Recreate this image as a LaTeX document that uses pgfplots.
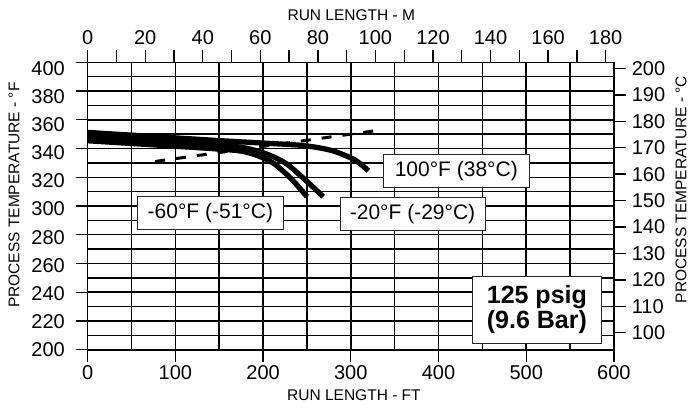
\documentclass[border=0pt]{standalone}
\usepackage{fontspec}
\setmainfont{Liberation Sans}
\usepackage{pgfplots}
\pgfplotsset{compat=1.18}

\begin{document}
\begin{tikzpicture}
\pgfplotsset{
  chartbase/.style={
    scale only axis, width=526.2pt, height=287.4pt,
    at={(0pt,0pt)}, anchor=south west,
    tick align=outside, major tick length=12pt,
    /pgf/number format/assume math mode=true,
    tick label style={font=\fontsize{20}{24}\selectfont, inner sep=0pt},
    label style={font=\fontsize{15.5}{18}\selectfont, inner sep=0pt},
    axis line style={line width=1.6pt},
    every tick/.style={black, line width=1.4pt},
  },
}
\begin{axis}[chartbase,
  xmin=0, xmax=600, ymin=200, ymax=400,
  xtick={0,100,...,600}, ytick={200,220,...,400},
  minor xtick={50,150,...,550}, minor ytick={210,230,...,390},
  minor tick length=0pt,
  grid=both,
  major grid style={black, line width=1.5pt},
  minor grid style={black, line width=1.5pt},
  xtick pos=left, ytick pos=left,
  xticklabel style={anchor=north, yshift=-3.3pt},
  yticklabel style={anchor=east, xshift=-10.7pt, yshift={-0.6pt*\ticknum}},
  xlabel={RUN LENGTH - FT},
  ylabel={PROCESS TEMPERATURE - °F},
  xlabel style={at={(axis description cs:0.506,-0.1576)}, anchor=center},
  ylabel style={at={(axis description cs:-0.1401,0.538)}, anchor=center, rotate=0},
]
% 100 F (38 C)
\addplot[black, line width=5.3pt, smooth, tension=0.5] coordinates {
  (0,351.2) (50,349.3) (100,347.4) (150,345.5) (200,343.8) (240,342.4)
  (260,340.9) (280,338.3) (300,333.5) (310,329.8) (320,324.5)};
% -20 F (-29 C)
\addplot[black, line width=5.3pt, smooth, tension=0.5] coordinates {
  (0,348.3) (50,346.4) (100,344.5) (150,342.5) (175,340.9) (195,338.0)
  (212,334.2) (228,328.8) (246,319.3) (258,312.6) (268.5,306.5)};
% -60 F (-51 C)
\addplot[black, line width=5.3pt, smooth, tension=0.5] coordinates {
  (0,345.4) (50,343.5) (100,341.6) (150,339.6) (175,338.2) (193,335.2)
  (212,329.7) (230,320.2) (240,313.6) (250,306.5)};
% dashed reference line
\addplot[black, line width=3pt, dash pattern=on 10pt off 11pt] coordinates {
  (77,331) (328,352.4)};

\node[draw=black!85, line width=0.9pt, fill=white, inner sep=0pt,
  minimum width=145.8pt, minimum height=32.3pt,
  font=\fontsize{21}{25}\selectfont] at (axis cs:139.9,295.2) {-60°F (-51°C)};
\node[draw=black!85, line width=0.9pt, fill=white, inner sep=0pt,
  minimum width=145pt, minimum height=33.4pt,
  font=\fontsize{21}{25}\selectfont] at (axis cs:370.4,294.4) {-20°F (-29°C)};
\node[draw=black!85, line width=0.9pt, fill=white, inner sep=0pt,
  minimum width=146pt, minimum height=33.3pt,
  font=\fontsize{21}{25}\selectfont] at (axis cs:420.3,324.6) {100°F (38°C)};
\node[draw=black!85, line width=0.9pt, fill=white, inner sep=0pt,
  minimum width=128.3pt, minimum height=67.3pt, align=center,
  font=\bfseries\fontsize{25}{24.4}\selectfont] at (axis cs:512.2,227.9) {125 psig\\(9.6 Bar)};
\end{axis}

\begin{axis}[chartbase,
  xmin=0, xmax=182.88, ymin=93.6, ymax=202.3,
  axis x line*=top, axis y line*=right,
  xtick={0,20,...,180}, minor xtick={10,30,...,170},
  minor tick length=12pt,
  ytick={100,110,...,200},
  xticklabel style={anchor=south, yshift=5.3pt},
  yticklabel style={anchor=west, xshift=5.7pt},
  xlabel={RUN LENGTH - M},
  ylabel={PROCESS TEMPERATURE - °C},
  xlabel style={at={(axis description cs:0.501,1.1635)}, anchor=center},
  every axis y label/.style={at={(axis description cs:1.1275,0.557)},
    anchor=center, rotate=90, inner sep=0pt, font=\fontsize{15.5}{18}\selectfont},
]
\addplot[draw=none] coordinates {(0,100)};
\end{axis}

\pgfresetboundingbox
\path[use as bounding box] (-87.7pt,-58.3pt) rectangle (601.3pt,349.7pt);
\end{tikzpicture}
\end{document}
